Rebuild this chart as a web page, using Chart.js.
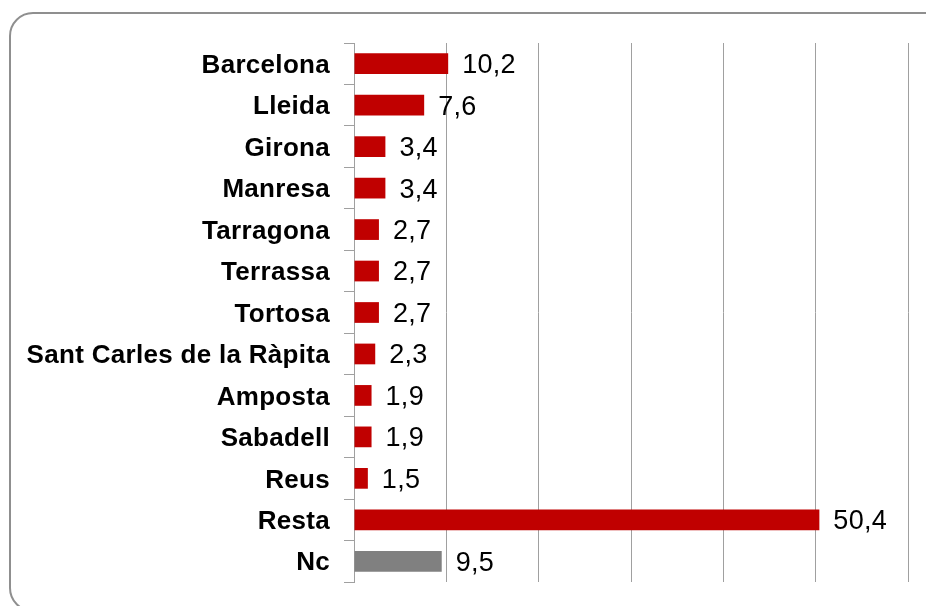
<!DOCTYPE html>
<html>
<head>
<meta charset="utf-8">
<script src="https://cdn.jsdelivr.net/npm/chart.js@4.4.1/dist/chart.umd.min.js"></script>
<style>
    html, body { margin: 0; padding: 0; background: #fff; overflow: hidden; }
    #wrap { position: relative; width: 926px; height: 606px; overflow: hidden; }
    #frame {
        position: absolute; left: 9px; top: 12px; width: 940px; height: 600px;
        border: 2px solid #8f8f8f; border-radius: 24px; box-sizing: border-box;
    }
    #chart { position: absolute; left: 0; top: 0; }
</style>
</head>
<body>
<div id="wrap">
    <div id="frame"></div>
    <canvas id="chart" width="926" height="606"></canvas>
</div>
<script>
/* data */
const cities = ['Barcelona', 'Lleida', 'Girona', 'Manresa', 'Tarragona', 'Terrassa', 'Tortosa',
    'Sant Carles de la Ràpita', 'Amposta', 'Sabadell', 'Reus', 'Resta', 'Nc'];
const shares = [10.2, 7.6, 3.4, 3.4, 2.7, 2.7, 2.7, 2.3, 1.9, 1.9, 1.5, 50.4, 9.5];
const axisMax = 60;
const axisStep = 10;

const RED = '#c00000';
const GREY = '#808080';
const LINE = '#a0a0a0';

// the source text is drawn a little wide, so spread the letters a bit
const wideText = {
    id: 'wideText',
    beforeLayout(chart) { chart.ctx.letterSpacing = '0.3px'; },
    beforeDraw(chart) { chart.ctx.letterSpacing = '0.3px'; }
};

// value labels to the right of each bar, with comma decimals
const valueLabels = {
    id: 'valueLabels',
    afterDatasetsDraw(chart) {
        const ctx = chart.ctx;
        const meta = chart.getDatasetMeta(0);
        ctx.save();
        ctx.font = '27px "Liberation Sans", Arial, sans-serif';
        ctx.fillStyle = '#000';
        ctx.textAlign = 'left';
        ctx.textBaseline = 'middle';
        meta.data.forEach((bar, i) => {
            const txt = shares[i].toFixed(1).replace('.', ',');
            ctx.fillText(txt, bar.x + 14, bar.y + 2);
        });
        ctx.restore();
    }
};

new Chart(document.getElementById('chart'), {
    type: 'bar',
    data: {
        labels: cities,
        datasets: [{
            data: shares,
            backgroundColor: cities.map(c => c === 'Nc' ? GREY : RED),
            categoryPercentage: 1,
            barPercentage: 0.5
        }]
    },
    options: {
        indexAxis: 'y',
        responsive: false,
        animation: false,
        layout: { padding: { top: 43, right: 18, bottom: 24, left: 0 } },
        plugins: { legend: { display: false }, tooltip: { enabled: false } },
        scales: {
            x: {
                min: 0,
                max: axisMax,
                afterFit(scale) { scale.height = 0; },
                ticks: { display: false, stepSize: axisStep },
                grid: { color: LINE, lineWidth: 1, drawTicks: false },
                border: { display: false }
            },
            y: {
                afterFit(scale) {
                    scale.width = 354;
                    // labels sit in the middle of each band, no extra room needed
                    scale.paddingTop = 0;
                    scale.paddingBottom = 0;
                },
                grid: { offset: true, drawOnChartArea: false, color: LINE, tickLength: 10 },
                border: { display: true, color: LINE },
                ticks: {
                    padding: 14,
                    labelOffset: 2,
                    color: '#000',
                    font: { family: '"Liberation Sans", Arial, sans-serif', size: 26, weight: 'bold' }
                }
            }
        }
    },
    plugins: [wideText, valueLabels]
});
</script>
</body>
</html>
